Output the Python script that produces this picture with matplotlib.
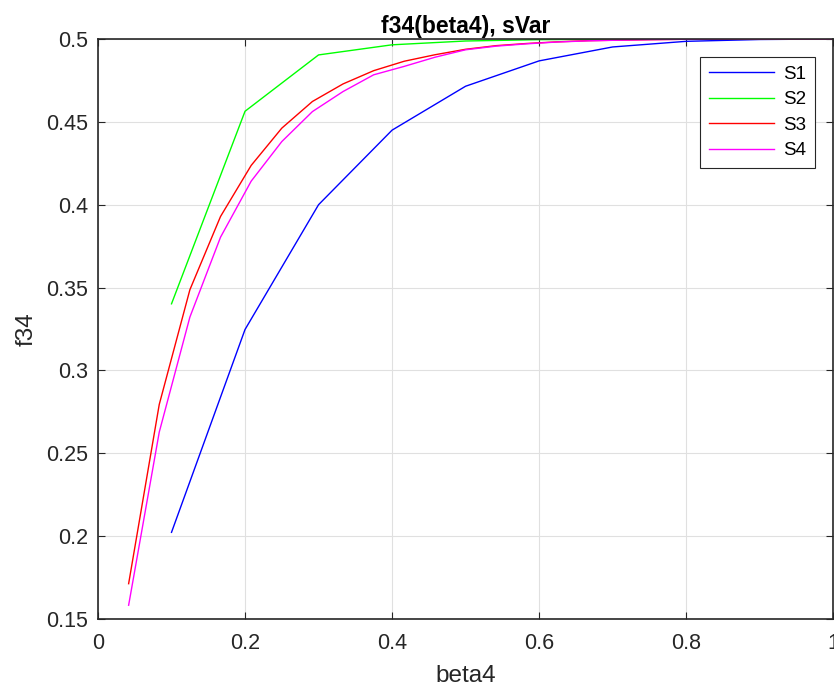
import matplotlib.pyplot as plt
import numpy as np

plt.rcParams['font.family'] = ['Liberation Sans', 'DejaVu Sans']

# S1 / S2 sampled at 0.1 steps, S3 / S4 at 1/24 steps
x12 = [0.1, 0.2, 0.3, 0.4, 0.5, 0.6, 0.7, 0.8, 0.9, 1.0]
s1 = [0.2023, 0.3247, 0.4000, 0.4450, 0.4715, 0.4868, 0.4952, 0.4986, 0.4997, 0.5]
s2 = [0.3402, 0.4564, 0.4904, 0.4965, 0.4988, 0.4996, 0.4999, 0.5, 0.5, 0.5]

x34 = [k / 24 for k in range(1, 25)]
s3 = [0.1713, 0.2795, 0.3487, 0.3929, 0.4237, 0.4462, 0.4623, 0.4729,
      0.4809, 0.4866, 0.4905, 0.4938, 0.4960, 0.4973, 0.4983, 0.4990,
      0.4993, 0.4996, 0.4998, 0.4999, 0.5, 0.5, 0.5, 0.5]
s4 = [0.1583, 0.2628, 0.3322, 0.3804, 0.4142, 0.4381, 0.4562, 0.4683,
      0.4784, 0.4835, 0.4890, 0.4935, 0.4957, 0.4971, 0.4982, 0.4989,
      0.4993, 0.4996, 0.4998, 0.4999, 0.5, 0.5, 0.5, 0.5]

fig = plt.figure(figsize=(8.34, 6.88), dpi=100)
ax = fig.add_axes([0.1175, 0.1003, 0.8815, 0.843])

ax.plot(x12, s1, color='#0000ff', lw=1, label='S1')
ax.plot(x12, s2, color='#00ff00', lw=1, label='S2')
ax.plot(x34, s3, color='#ff0000', lw=1, label='S3')
ax.plot(x34, s4, color='#ff00ff', lw=1, label='S4')

ax.set_xlim(0, 1)
ax.set_ylim(0.15, 0.5)
ax.set_xticks(np.arange(0, 1.01, 0.2))
ax.set_xticklabels(['0', '0.2', '0.4', '0.6', '0.8', '1'])
ax.set_yticks(np.arange(0.15, 0.501, 0.05))
ax.set_yticklabels(['0.15', '0.2', '0.25', '0.3', '0.35', '0.4', '0.45', '0.5'])
ax.grid(True, color='#e0e0e0', lw=0.8)
ax.tick_params(direction='in', length=5, labelsize=15.5, top=True, right=True,
               colors='#262626')
ax.tick_params(axis='x', pad=10)
ax.tick_params(axis='y', pad=7)
for sp in ax.spines.values():
    sp.set_color('#262626')
    sp.set_linewidth(1.2)

ax.set_xlabel('beta4', fontsize=17.5, color='#262626', labelpad=8)
ax.set_ylabel('f34', fontsize=17.5, color='#262626', labelpad=6)
ax.set_title('f34(beta4), sVar', fontsize=16.5, fontweight='bold', pad=4)

leg = ax.legend(loc='upper right', bbox_to_anchor=(0.9755, 0.969), fontsize=13.5,
                fancybox=False, edgecolor='#262626', framealpha=1,
                handlelength=3.5, handletextpad=0.5, borderpad=0.45,
                labelspacing=0.45, borderaxespad=0)
leg.get_frame().set_linewidth(0.8)

fig.savefig('out.png', dpi=100)
